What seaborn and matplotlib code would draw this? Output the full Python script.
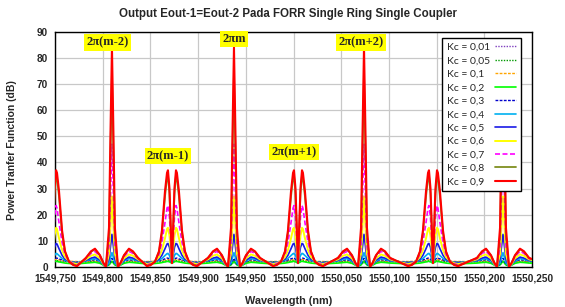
import numpy as np
import pandas as pd
import matplotlib
matplotlib.use("Agg")
import matplotlib.pyplot as plt
import seaborn as sns
from matplotlib.ticker import MultipleLocator, FuncFormatter
from matplotlib.offsetbox import HPacker

# ---------------- data ----------------
kc_values = ["0,01", "0,05", "0,1", "0,2", "0,3", "0,4", "0,5", "0,6", "0,7", "0,8", "0,9"]

# feature centres (nm): D = twin-peak resonance, M = main resonance
feature_kind = ["D", "M", "D", "M", "D", "M", "D", "M", "D"]
feature_centre = [1549.7469, 1549.8097, 1549.8726, 1549.9376, 1550.0047,
                  1550.0739, 1550.1462, 1550.2196, 1550.2951]

# sample offsets (nm) around each main resonance
main_offset = [-0.0273, -0.0220, -0.0178, -0.0126, -0.0089, -0.0063, -0.0031, -0.0016, 0.0,
               0.0016, 0.0031, 0.0063, 0.0089, 0.0126, 0.0178, 0.0220, 0.0273]
# sample offsets (nm) around each twin-peak resonance
dbl_offset = [-0.0262, -0.0220, -0.0178, -0.0136, -0.0105, -0.0073, -0.0052, -0.0042, -0.0026, 0.0,
              0.0026, 0.0042, 0.0052, 0.0073, 0.0105, 0.0136, 0.0178, 0.0220, 0.0262]

# power transfer (dB) at main resonance samples, per Kc
main_001 = [1.9, 2.0, 2.0, 1.7, 0.9, 0.5, 1.0, 1.4, 1.9, 1.4, 1.0, 0.5, 0.9, 1.7, 2.0, 2.0, 1.9]
main_005 = [2.0, 2.1, 2.2, 1.8, 0.9, 0.4, 1.0, 1.6, 2.1, 1.6, 1.0, 0.4, 0.9, 1.8, 2.2, 2.1, 2.0]
main_01 = [2.1, 2.3, 2.4, 1.9, 0.9, 0.4, 1.0, 1.8, 2.5, 1.8, 1.0, 0.4, 0.9, 1.9, 2.4, 2.3, 2.1]
main_02 = [1.5, 1.7, 1.8, 1.4, 0.7, 0.3, 0.8, 1.5, 2.2, 1.5, 0.8, 0.3, 0.7, 1.4, 1.8, 1.7, 1.5]
main_03 = [2.3, 2.6, 2.8, 2.1, 0.9, 0.3, 1.1, 2.2, 3.3, 2.2, 1.1, 0.3, 0.9, 2.1, 2.8, 2.6, 2.3]
main_04 = [2.4, 2.9, 3.2, 2.3, 0.9, 0.3, 1.6, 3.5, 5.5, 3.5, 1.6, 0.3, 0.9, 2.3, 3.2, 2.9, 2.4]
main_05 = [2.6, 3.4, 3.8, 2.7, 1.0, 0.2, 3.0, 7.5, 12.5, 7.5, 3.0, 0.2, 1.0, 2.7, 3.8, 3.4, 2.6]
main_06 = [2.9, 4.3, 4.8, 3.3, 1.1, 0.2, 5.0, 15.0, 27.0, 15.0, 5.0, 0.2, 1.1, 3.3, 4.8, 4.3, 2.9]
main_07 = [3.2, 5.2, 6.0, 4.0, 1.3, 0.1, 8.0, 27.0, 47.0, 27.0, 8.0, 0.1, 1.3, 4.0, 6.0, 5.2, 3.2]
main_08 = [3.4, 5.8, 6.8, 4.4, 1.5, 0.1, 12.0, 42.0, 74.0, 42.0, 12.0, 0.1, 1.5, 4.4, 6.8, 5.8, 3.4]
main_09 = [3.5, 6.0, 7.0, 4.5, 1.5, 0.1, 15.0, 50.0, 84.0, 50.0, 15.0, 0.1, 1.5, 4.5, 7.0, 6.0, 3.5]

# power transfer (dB) at twin-peak samples, per Kc
dbl_001 = [1.9, 1.9, 1.92, 1.96, 2.0, 2.05, 2.1, 2.1, 2.05, 1.9, 2.05, 2.1, 2.1, 2.05, 2.0, 1.96, 1.92, 1.9, 1.9]
dbl_005 = [2.0, 2.0, 2.05, 2.15, 2.25, 2.35, 2.45, 2.5, 2.4, 1.9, 2.4, 2.5, 2.45, 2.35, 2.25, 2.15, 2.05, 2.0, 2.0]
dbl_01 = [2.1, 2.15, 2.2, 2.35, 2.5, 2.7, 2.85, 2.9, 2.7, 1.8, 2.7, 2.9, 2.85, 2.7, 2.5, 2.35, 2.2, 2.15, 2.1]
dbl_02 = [1.2, 1.25, 1.35, 1.5, 1.7, 1.95, 2.15, 2.2, 2.0, 1.4, 2.0, 2.2, 2.15, 1.95, 1.7, 1.5, 1.35, 1.25, 1.2]
dbl_03 = [1.8, 1.9, 2.1, 2.4, 2.7, 3.1, 3.4, 3.4, 3.0, 1.6, 3.0, 3.4, 3.4, 3.1, 2.7, 2.4, 2.1, 1.9, 1.8]
dbl_04 = [1.6, 1.8, 2.1, 2.6, 3.3, 4.4, 5.1, 5.2, 4.4, 1.5, 4.4, 5.2, 5.1, 4.4, 3.3, 2.6, 2.1, 1.8, 1.6]
dbl_05 = [1.4, 1.7, 2.2, 3.0, 4.5, 7.0, 8.8, 9.0, 7.5, 1.5, 7.5, 9.0, 8.8, 7.0, 4.5, 3.0, 2.2, 1.7, 1.4]
dbl_06 = [1.1, 1.5, 2.2, 3.8, 6.5, 11.0, 14.5, 15.0, 12.0, 1.5, 12.0, 15.0, 14.5, 11.0, 6.5, 3.8, 2.2, 1.5, 1.1]
dbl_07 = [0.8, 1.3, 2.3, 4.8, 9.5, 17.0, 22.5, 23.5, 19.0, 1.5, 19.0, 23.5, 22.5, 17.0, 9.5, 4.8, 2.3, 1.3, 0.8]
dbl_08 = [0.5, 1.0, 2.1, 5.8, 13.0, 27.0, 34.0, 35.0, 28.0, 1.5, 28.0, 35.0, 34.0, 27.0, 13.0, 5.8, 2.1, 1.0, 0.5]
dbl_09 = [0.3, 0.8, 2.0, 6.0, 14.0, 29.0, 36.0, 37.0, 30.0, 1.5, 30.0, 37.0, 36.0, 29.0, 14.0, 6.0, 2.0, 0.8, 0.3]

main_profiles = [main_001, main_005, main_01, main_02, main_03, main_04, main_05, main_06, main_07, main_08, main_09]
dbl_profiles = [dbl_001, dbl_005, dbl_01, dbl_02, dbl_03, dbl_04, dbl_05, dbl_06, dbl_07, dbl_08, dbl_09]

# resonance order labels
order_labels = ["2\u03c0(m-2)", "2\u03c0m", "2\u03c0(m+2)", "2\u03c0(m-1)", "2\u03c0(m+1)"]
order_x = [1549.8050, 1549.9376, 1550.0708, 1549.8685, 1550.0002]
order_y = [85.8, 87.2, 85.9, 42.4, 44.0]

# ---------------- styles ----------------
colors = ["#7F3FBF", "#009A00", "#FFA500", "#00FF00", "#0000CC", "#00B0F0",
          "#1A1AE6", "#FFFF00", "#FF00FF", "#7F8F20", "#FF0000"]
styles = [(0, (1, 1)), (0, (1, 1)), (0, (2, 1)), "-", (0, (2, 1)), "-",
          "-", "-", (0, (3, 1.5)), "-", "-"]
widths = [1.0, 1.0, 1.0, 1.2, 1.0, 1.2, 1.2, 1.4, 1.2, 1.3, 1.5]

# build long table
rows = []
for k, lab in enumerate(kc_values):
    for kind, c in zip(feature_kind, feature_centre):
        offs = main_offset if kind == "M" else dbl_offset
        vals = main_profiles[k] if kind == "M" else dbl_profiles[k]
        for o, v in zip(offs, vals):
            rows.append((f"Kc = {lab}", c + o, v))
df = pd.DataFrame(rows, columns=["series", "wavelength", "power"])

# ---------------- figure ----------------
sns.set_theme(style="white")
plt.rcParams['font.family'] = ['Liberation Sans', 'DejaVu Sans']

W, H = 565, 307
fig = plt.figure(figsize=(W / 100, H / 100), dpi=100)
ax = fig.add_axes([55 / W, 1 - 267 / H, (532 - 55) / W, (267 - 31.7) / H])

for k, lab in enumerate(kc_values):
    name = f"Kc = {lab}"
    sub = df[df["series"] == name]
    sns.lineplot(data=sub, x="wavelength", y="power", ax=ax, color=colors[k],
                 linestyle=styles[k], linewidth=widths[k], label=name,
                 sort=False, estimator=None, zorder=2 + k)

ax.set_xlim(1549.75, 1550.25)
ax.set_ylim(0, 90)
ax.xaxis.set_major_locator(MultipleLocator(0.05))
ax.xaxis.set_minor_locator(MultipleLocator(0.01))
ax.yaxis.set_major_locator(MultipleLocator(10))
ax.xaxis.set_major_formatter(FuncFormatter(lambda v, p: f"{v:.3f}".replace(".", ",")))
ax.grid(True, which="major", color="#C8C8C8", linewidth=0.9)
ax.set_axisbelow(True)
for s in ax.spines.values():
    s.set_color("black")
    s.set_linewidth(1.0)
ax.tick_params(axis="both", which="major", labelsize=7.2, length=3, width=0.8,
               color="black", direction="out", pad=2)
ax.tick_params(axis="x", which="minor", length=2, width=0.6, color="black", direction="inout")
for t in ax.get_xticklabels() + ax.get_yticklabels():
    t.set_fontweight("bold")
ax.set_xlabel("")
ax.set_ylabel("")

for lab, x, y in zip(order_labels, order_x, order_y):
    ax.text(x, y, lab, ha="center", va="center", fontsize=9, fontweight="bold",
            family=["Liberation Serif", "DejaVu Serif"], zorder=30,
            bbox=dict(facecolor="#FFFF00", edgecolor="none", pad=1.6))

leg = ax.legend(loc="upper left", bbox_to_anchor=(442 / W, 1 - 38 / H),
                bbox_transform=fig.transFigure, markerfirst=False, frameon=True,
                fancybox=False, shadow=False, edgecolor="black", framealpha=1,
                prop={"family": "Lato", "size": 7.5}, handlelength=2.0,
                labelspacing=0.40, borderpad=0.45, handletextpad=0.5, borderaxespad=0)
leg.get_frame().set_linewidth(1.0)
leg.set_zorder(40)

fig.text(288 / W, 1 - 14 / H, "Output Eout-1=Eout-2 Pada FORR Single Ring Single Coupler",
         ha="center", va="center", fontsize=8.3, fontweight="bold")
fig.text(289 / W, 1 - 301 / H, "Wavelength (nm)", ha="center", va="center",
         fontsize=7.8, fontweight="bold")
fig.text(12 / W, 1 - 150 / H, "Power Tranfer Function (dB)", ha="center", va="center",
         rotation=90, fontsize=7.5, fontweight="bold")

# left-align legend labels while keeping the line samples in one right column
fig.canvas.draw()
renderer = fig.canvas.get_renderer()
texts = leg.get_texts()
widths_px = [t.get_window_extent(renderer).width for t in texts]
maxw = max(widths_px)
packers = []
def _collect(box):
    for ch in box.get_children():
        if isinstance(ch, HPacker):
            packers.append(ch)
        elif hasattr(ch, "get_children"):
            _collect(ch)
_collect(leg._legend_handle_box)
base_sep = 0.5 * 7.5
for hp, w in zip(packers, widths_px):
    hp.sep = base_sep + (maxw - w) * 72.0 / fig.dpi

fig.savefig("out.png", dpi=100)
